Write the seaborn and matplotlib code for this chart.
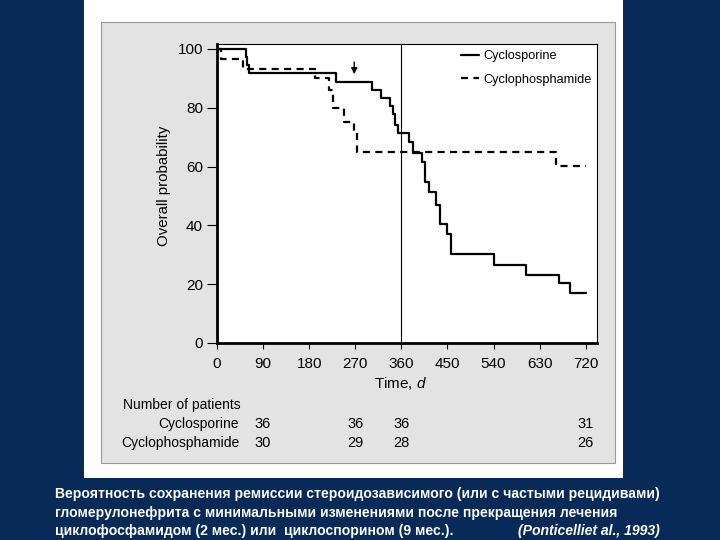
import matplotlib
matplotlib.use("Agg")
import matplotlib.pyplot as plt
import seaborn as sns
import pandas as pd
from matplotlib.patches import Rectangle
from matplotlib.lines import Line2D

# ---- data ----
groups = ["Cyclosporine", "Cyclophosphamide"]
time_cs = [0, 57, 59, 62, 233, 302, 320, 338, 343, 347, 354, 375, 383, 401, 407,
           413, 427, 435, 449, 457, 540, 603, 668, 690, 720]
surv_cs = [100, 97.2, 94.4, 91.7, 88.9, 86.1, 83.3, 80.6, 77.8, 74.1, 71.5, 68.5,
           64.7, 61.7, 54.9, 51.3, 46.9, 40.4, 37.1, 30.3, 26.6, 23.1, 20.3, 16.9, 16.9]
time_cp = [0, 8, 51, 191, 219, 227, 248, 267, 273, 662, 720]
surv_cp = [100, 96.7, 93.3, 90.0, 86.0, 80.0, 75.3, 71.9, 65.0, 60.3, 60.3]
x_ticks = [0, 90, 180, 270, 360, 450, 540, 630, 720]
y_ticks = [0, 20, 40, 60, 80, 100]
risk_days = [90, 270, 360, 720]
risk_cs = [36, 36, 36, 31]
risk_cp = [30, 29, 28, 26]
arrow_day = 268
caption_lines = [
    "Вероятность сохранения ремиссии стероидозависимого (или с частыми рецидивами)",
    "гломерулонефрита с минимальными изменениями после прекращения лечения",
    "циклофосфамидом (2 мес.) или  циклоспорином (9 мес.).",
]
caption_ref = "(Ponticelliet al., 1993)"

df = pd.concat([
    pd.DataFrame({"time": time_cs, "surv": surv_cs, "group": groups[0]}),
    pd.DataFrame({"time": time_cp, "surv": surv_cp, "group": groups[1]}),
], ignore_index=True)

sns.set_theme(style="white")
FONT = ["Liberation Sans", "DejaVu Sans"]
plt.rcParams["font.family"] = FONT
plt.rcParams["text.color"] = "black"
plt.rcParams["mathtext.fontset"] = "custom"
plt.rcParams["mathtext.it"] = "Liberation Sans:italic"
plt.rcParams["mathtext.rm"] = "Liberation Sans"

W, H = 720, 540
fig = plt.figure(figsize=(7.2, 5.4), dpi=100, facecolor="#082a58")

def fx(x): return x / W
def fy(y): return 1 - y / H

# white slide panel and grey scanned figure
fig.patches.append(Rectangle((fx(84), fy(478)), (623 - 84) / W, 478 / H,
                             transform=fig.transFigure, facecolor="white",
                             edgecolor="none", zorder=-3))
fig.patches.append(Rectangle((fx(101), fy(463)), (615 - 101) / W, (463 - 22) / H,
                             transform=fig.transFigure, facecolor="#e3e3e3",
                             edgecolor="#9a9a9a", linewidth=0.8, zorder=-2))

ax = fig.add_axes([fx(217), fy(343), (597 - 217) / W, (343 - 44) / H])
ax.set_zorder(1)
ax.set_facecolor("white")

sns.lineplot(data=df, x="time", y="surv", hue="group", style="group",
             palette={groups[0]: "black", groups[1]: "black"},
             dashes={groups[0]: "", groups[1]: (3.2, 2.4)},
             drawstyle="steps-post", estimator=None, sort=False,
             linewidth=1.6, legend=False, ax=ax)

ax.axvline(360, color="black", linewidth=0.8)
ax.annotate("", xy=(arrow_day, 90.5), xytext=(arrow_day, 96.5),
            arrowprops=dict(arrowstyle="-|>", color="black", lw=1.0,
                            mutation_scale=9))

ax.set_xlim(0, 742)
ax.set_ylim(0, 101.7)
ax.set_xticks(x_ticks)
ax.set_yticks(y_ticks)
ax.tick_params(axis="both", direction="out", colors="black", labelsize=11)
ax.tick_params(axis="y", length=7, width=0.8, pad=3, left=True)
ax.tick_params(axis="x", length=4, width=0.8, pad=6, bottom=True)
for s in ["left", "bottom"]:
    ax.spines[s].set_linewidth(2.0)
for s in ["top", "right"]:
    ax.spines[s].set_linewidth(0.8)
for s in ax.spines.values():
    s.set_color("black")

ax.set_xlabel("")
ax.set_ylabel("")
fig.text(fx(164), fy(186), "Overall probability", rotation=90, ha="center",
         va="center", fontsize=10.8, color="black")
fig.text(fx(401), fy(383), "Time, $\\it{d}$", ha="center", va="center",
         fontsize=11, color="black")

handles = [Line2D([], [], color="black", lw=1.6),
           Line2D([], [], color="black", lw=1.6, dashes=(3.2, 2.4))]
fig.legend(handles, groups, loc="upper left",
           bbox_to_anchor=(fx(461), fy(50)), frameon=False, fontsize=9.2,
           handlelength=1.4, handletextpad=0.35, labelspacing=0.9,
           borderaxespad=0, borderpad=0)

# number at risk table
fig.text(fx(123), fy(405), "Number of patients", ha="left", va="center",
         fontsize=10, color="black")
fig.text(fx(239), fy(424), groups[0], ha="right", va="center", fontsize=10,
         color="black")
fig.text(fx(239), fy(443), groups[1], ha="right", va="center", fontsize=10,
         color="black")
for d, a, b in zip(risk_days, risk_cs, risk_cp):
    xp = ax.transData.transform((d, 0))[0]
    xf = fig.transFigure.inverted().transform((xp, 0))[0]
    fig.text(xf, fy(424), str(a), ha="center", va="center", fontsize=10.5,
             color="black")
    fig.text(xf, fy(443), str(b), ha="center", va="center", fontsize=10.5,
             color="black")

# caption
for i, line in enumerate(caption_lines):
    fig.text(fx(55), fy(494 + i * 18.5), line, ha="left", va="center",
             fontsize=10.1, fontweight="bold", color="white")
fig.text(fx(660), fy(494 + 2 * 18.5), caption_ref, ha="right", va="center",
         fontsize=10.1, fontweight="bold", fontstyle="italic", color="white")

fig.savefig("out.png", dpi=100, facecolor=fig.get_facecolor())
